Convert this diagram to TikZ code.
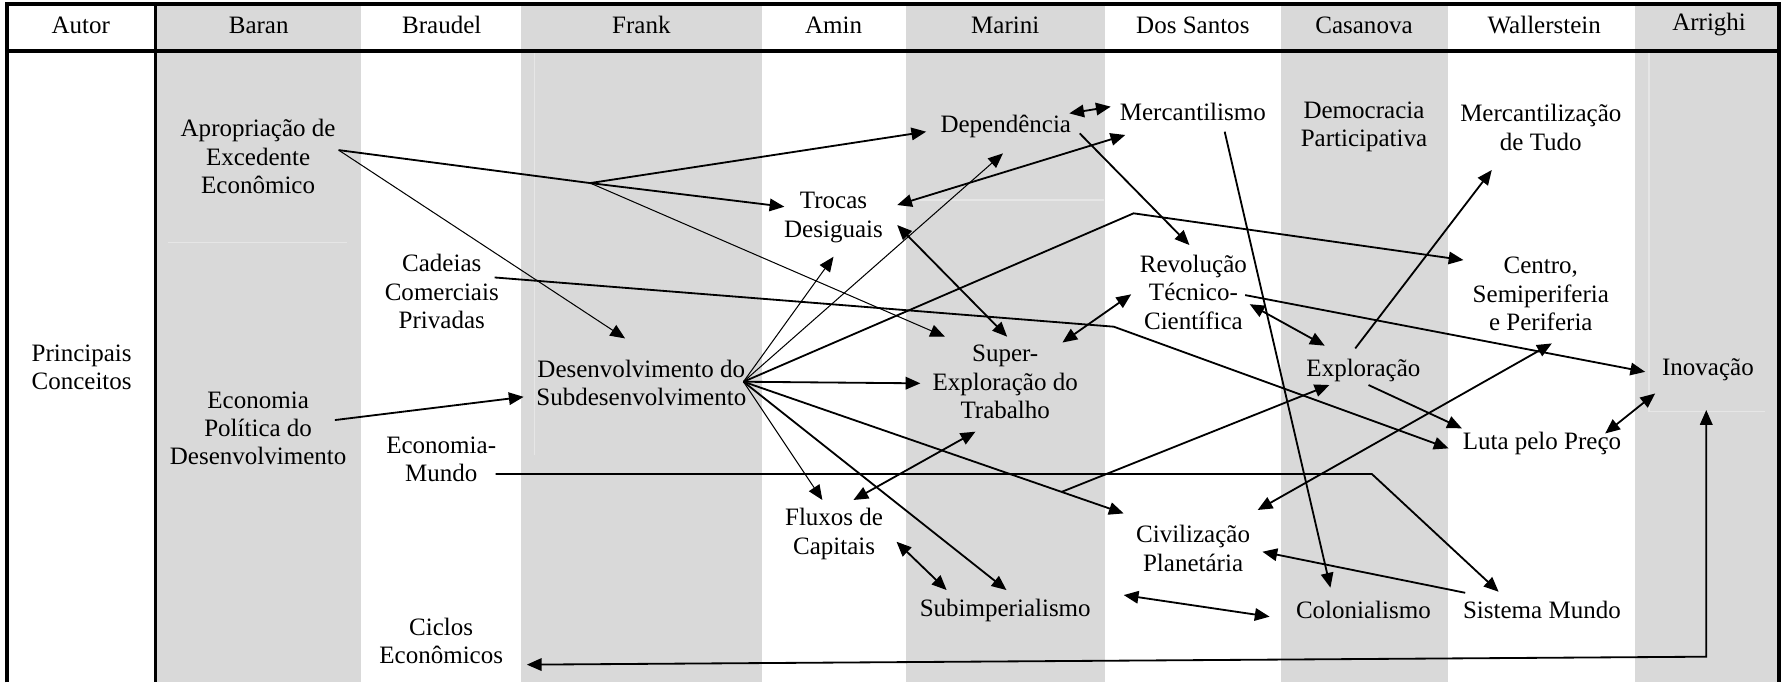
\documentclass[tikz,border=0pt]{standalone}
\usepackage{fontspec}
\setmainfont{Liberation Serif}
\usetikzlibrary{arrows.meta,calc}
\definecolor{band}{HTML}{D9D9D9}
\definecolor{ghost}{HTML}{E6E6E6}
\begin{document}
\begin{tikzpicture}[x=0.5pt,y=-0.5pt,
  lbl/.style={align=center,inner sep=0pt,font=\fontsize{11}{12.5}\selectfont},
  conn/.style={line width=0.8pt},
  fine/.style={line width=0.45pt},
  >={Triangle[length=6.5pt,width=5.5pt]},
  border/.style={line width=1.5pt},
  ghostline/.style={draw=ghost,line width=0.6pt}]
\useasboundingbox (0,0) rectangle (1568,600);
% column bands
\fill[band] (137,3.5) rectangle (317.5,600);
\fill[band] (458.5,3.5) rectangle (670,600);
\fill[band] (797,3.5) rectangle (972,600);
\fill[band] (1126.5,3.5) rectangle (1273,600);
\fill[band] (1438,3.5) rectangle (1564,600);
% faint cell borders
\draw[ghostline] (148,213) -- (305,213);
\draw[ghostline] (470,45) -- (470,400);
\draw[ghostline] (798,176) -- (971,176);
\draw[ghostline] (1450,45) -- (1450,362) -- (1552,362);
% frame
\draw[border] (6,600) -- (6,3.5) -- (1564.5,3.5) -- (1564.5,600);
\draw[border] (6,45) -- (1564.5,45);
\draw[border] (137,3.5) -- (137,600);
% header
\node[lbl] (hAutor) at (71,22) {Autor};
\node[lbl] (hBaran) at (227.5,22) {Baran};
\node[lbl] (hBraudel) at (388.5,22) {Braudel};
\node[lbl] (hFrank) at (564,22) {Frank};
\node[lbl] (hAmin) at (733,22) {Amin};
\node[lbl] (hMarini) at (884,22) {Marini};
\node[lbl] (hDos) at (1049,22) {Dos Santos};
\node[lbl] (hCasanova) at (1199.5,22) {Casanova};
\node[lbl] (hWall) at (1358,22) {Wallerstein};
\node[lbl] (hArrighi) at (1503,22) {Arrighi};
% concepts
\node[lbl] (pc) at (71.8,323) {Principais\\Conceitos};
\node[lbl] (apr) at (227,137.8) {Apropriação de\\Excedente\\Econômico};
\node[lbl] (cad) at (388.5,256.5) {Cadeias\\Comerciais\\Privadas};
\node[lbl] (epd) at (227,376.7) {Economia\\Política do\\Desenvolvimento};
\node[lbl] (emu) at (388,404.1) {Economia-\\Mundo};
\node[lbl] (cic) at (388,563.6) {Ciclos\\Econômicos};
\node[lbl] (des) at (564,337) {Desenvolvimento do\\Subdesenvolvimento};
\node[lbl] (tro) at (733,191.3) {Trocas\\Desiguais};
\node[lbl] (flu) at (733.5,469.7) {Fluxos de\\Capitais};
\node[lbl] (dep) at (884.5,111.4) {Dependência};
\node[lbl] (sup) at (884,336) {Super-\\Exploração do\\Trabalho};
\node[lbl] (sub) at (884,536.5) {Subimperialismo};
\node[lbl] (mer) at (1049,98.2) {Mercantilismo};
\node[lbl] (rev) at (1049.5,257) {Revolução\\Técnico-\\Científica};
\node[lbl] (civ) at (1049.2,482.2) {Civilização\\Planetária};
\node[lbl] (dem) at (1199.5,111.4) {Democracia\\Participativa};
\node[lbl] (exp) at (1199,325.4) {Exploração};
\node[lbl] (col) at (1199,536.5) {Colonialismo};
\node[lbl] (mtu) at (1355,112.2) {Mercantilização\\de Tudo};
\node[lbl] (cen) at (1355,258.5) {Centro,\\Semiperiferia\\e Periferia};
\node[lbl] (luta) at (1356,390) {Luta pelo Preço};
\node[lbl] (smu) at (1356,536.5) {Sistema Mundo};
\node[lbl] (ino) at (1502,325.5) {Inovação};
% connectors
\coordinate (b1) at (519,161);
\draw[conn] ($(apr)+(70.8,-5.8)$) -- (b1);
\draw[conn,->] (b1) -- ($(dep)+(-70,4.4)$);
\draw[conn,->] (b1) -- ($(tro)+(-43.2,-9.5)$);
\draw[fine,->] (b1) -- ($(sup)+(-53,-39.9)$);
\draw[fine,->] ($(apr)+(70.8,-5.8)$) -- ($(des)+(-14.3,-39.4)$);
\coordinate (k2) at (979.5,287.3);
\draw[conn,->] ($(cad)+(46.5,-12.5)$) -- (k2) -- ($(luta)+(-82.1,4.3)$);
\draw[conn,->] ($(epd)+(67.5,-7.3)$) -- ($(des)+(-103.5,12)$);
\coordinate (k4) at (1206.5,416.9);
\draw[conn,->] ($(emu)+(47.8,12.8)$) -- (k4) -- ($(smu)+(-38.1,-16.1)$);
\coordinate (k5) at (1500.5,577.5);
\draw[conn,<->] ($(cic)+(75.3,20.9)$) -- (k5) -- ($(ino)+(-1.5,35.1)$);
\draw[conn,<->] ($(luta)+(55.6,-8.8)$) -- ($(ino)+(-46.4,20.5)$);
\draw[conn,->] ($(rev)+(45.5,2.5)$) -- ($(ino)+(-55.2,1.5)$);
\draw[conn,<->] ($(rev)+(49.5,10.5)$) -- ($(exp)+(-34,-21.4)$);
\draw[conn,<->] ($(rev)+(-54.7,1.8)$) -- ($(sup)+(50.3,-34.8)$);
\draw[conn,->] ($(dep)+(65,5.9)$) -- ($(rev)+(-3.5,-41.5)$);
\draw[conn,<->] ($(dep)+(55.8,-11.7)$) -- ($(mer)+(-72.2,-4.4)$);
\draw[conn,<->] ($(mer)+(-59.4,20.5)$) -- ($(tro)+(56,-11)$);
\draw[conn,->] ($(mer)+(28,17.6)$) -- ($(col)+(-29,-19.7)$);
\draw[conn,<->] ($(tro)+(56,6.6)$) -- ($(sup)+(1.7,-39.9)$);
\coordinate (hub) at ($(des)+(89.8,-1.3)$);
\draw[fine,->] (hub) -- ($(tro)+(0,34.5)$);
\draw[fine,->] (hub) -- ($(dep)+(-2.5,23.5)$);
\coordinate (k15) at (996.9,187.6);
\draw[conn,->] (hub) -- (k15) -- ($(cen)+(-68,-29.8)$);
\draw[conn,->] (hub) -- ($(sup)+(-74.6,1.1)$);
\draw[conn,->] (hub) -- ($(civ)+(-61,-30.7)$);
\coordinate (b15) at (933.5,432.6);
\draw[conn,->] (b15) -- ($(exp)+(-29.9,13.2)$);
\draw[conn,->] (hub) -- ($(sub)+(1.1,-17.6)$);
\draw[fine,->] (hub) -- ($(flu)+(-10.3,-30)$);
\draw[conn,<->] ($(flu)+(17,-30)$) -- ($(sup)+(-26.2,43.6)$);
\draw[conn,<->] ($(flu)+(54.9,6.7)$) -- ($(sub)+(-51.5,-17.6)$);
\draw[conn,<->] ($(sub)+(104.2,-13.2)$) -- ($(col)+(-82.5,5.8)$);
\draw[conn,->] ($(smu)+(-67.5,-15.2)$) -- ($(civ)+(61,3)$);
\draw[conn,->] ($(exp)+(-7.2,-19)$) -- ($(mtu)+(-43.1,37.3)$);
\draw[conn,<->] ($(civ)+(56.8,-33.7)$) -- ($(cen)+(9.7,43.5)$);
\draw[conn,->] ($(exp)+(4.5,13.2)$) -- ($(luta)+(-70.4,-13.3)$);
\end{tikzpicture}
\end{document}
